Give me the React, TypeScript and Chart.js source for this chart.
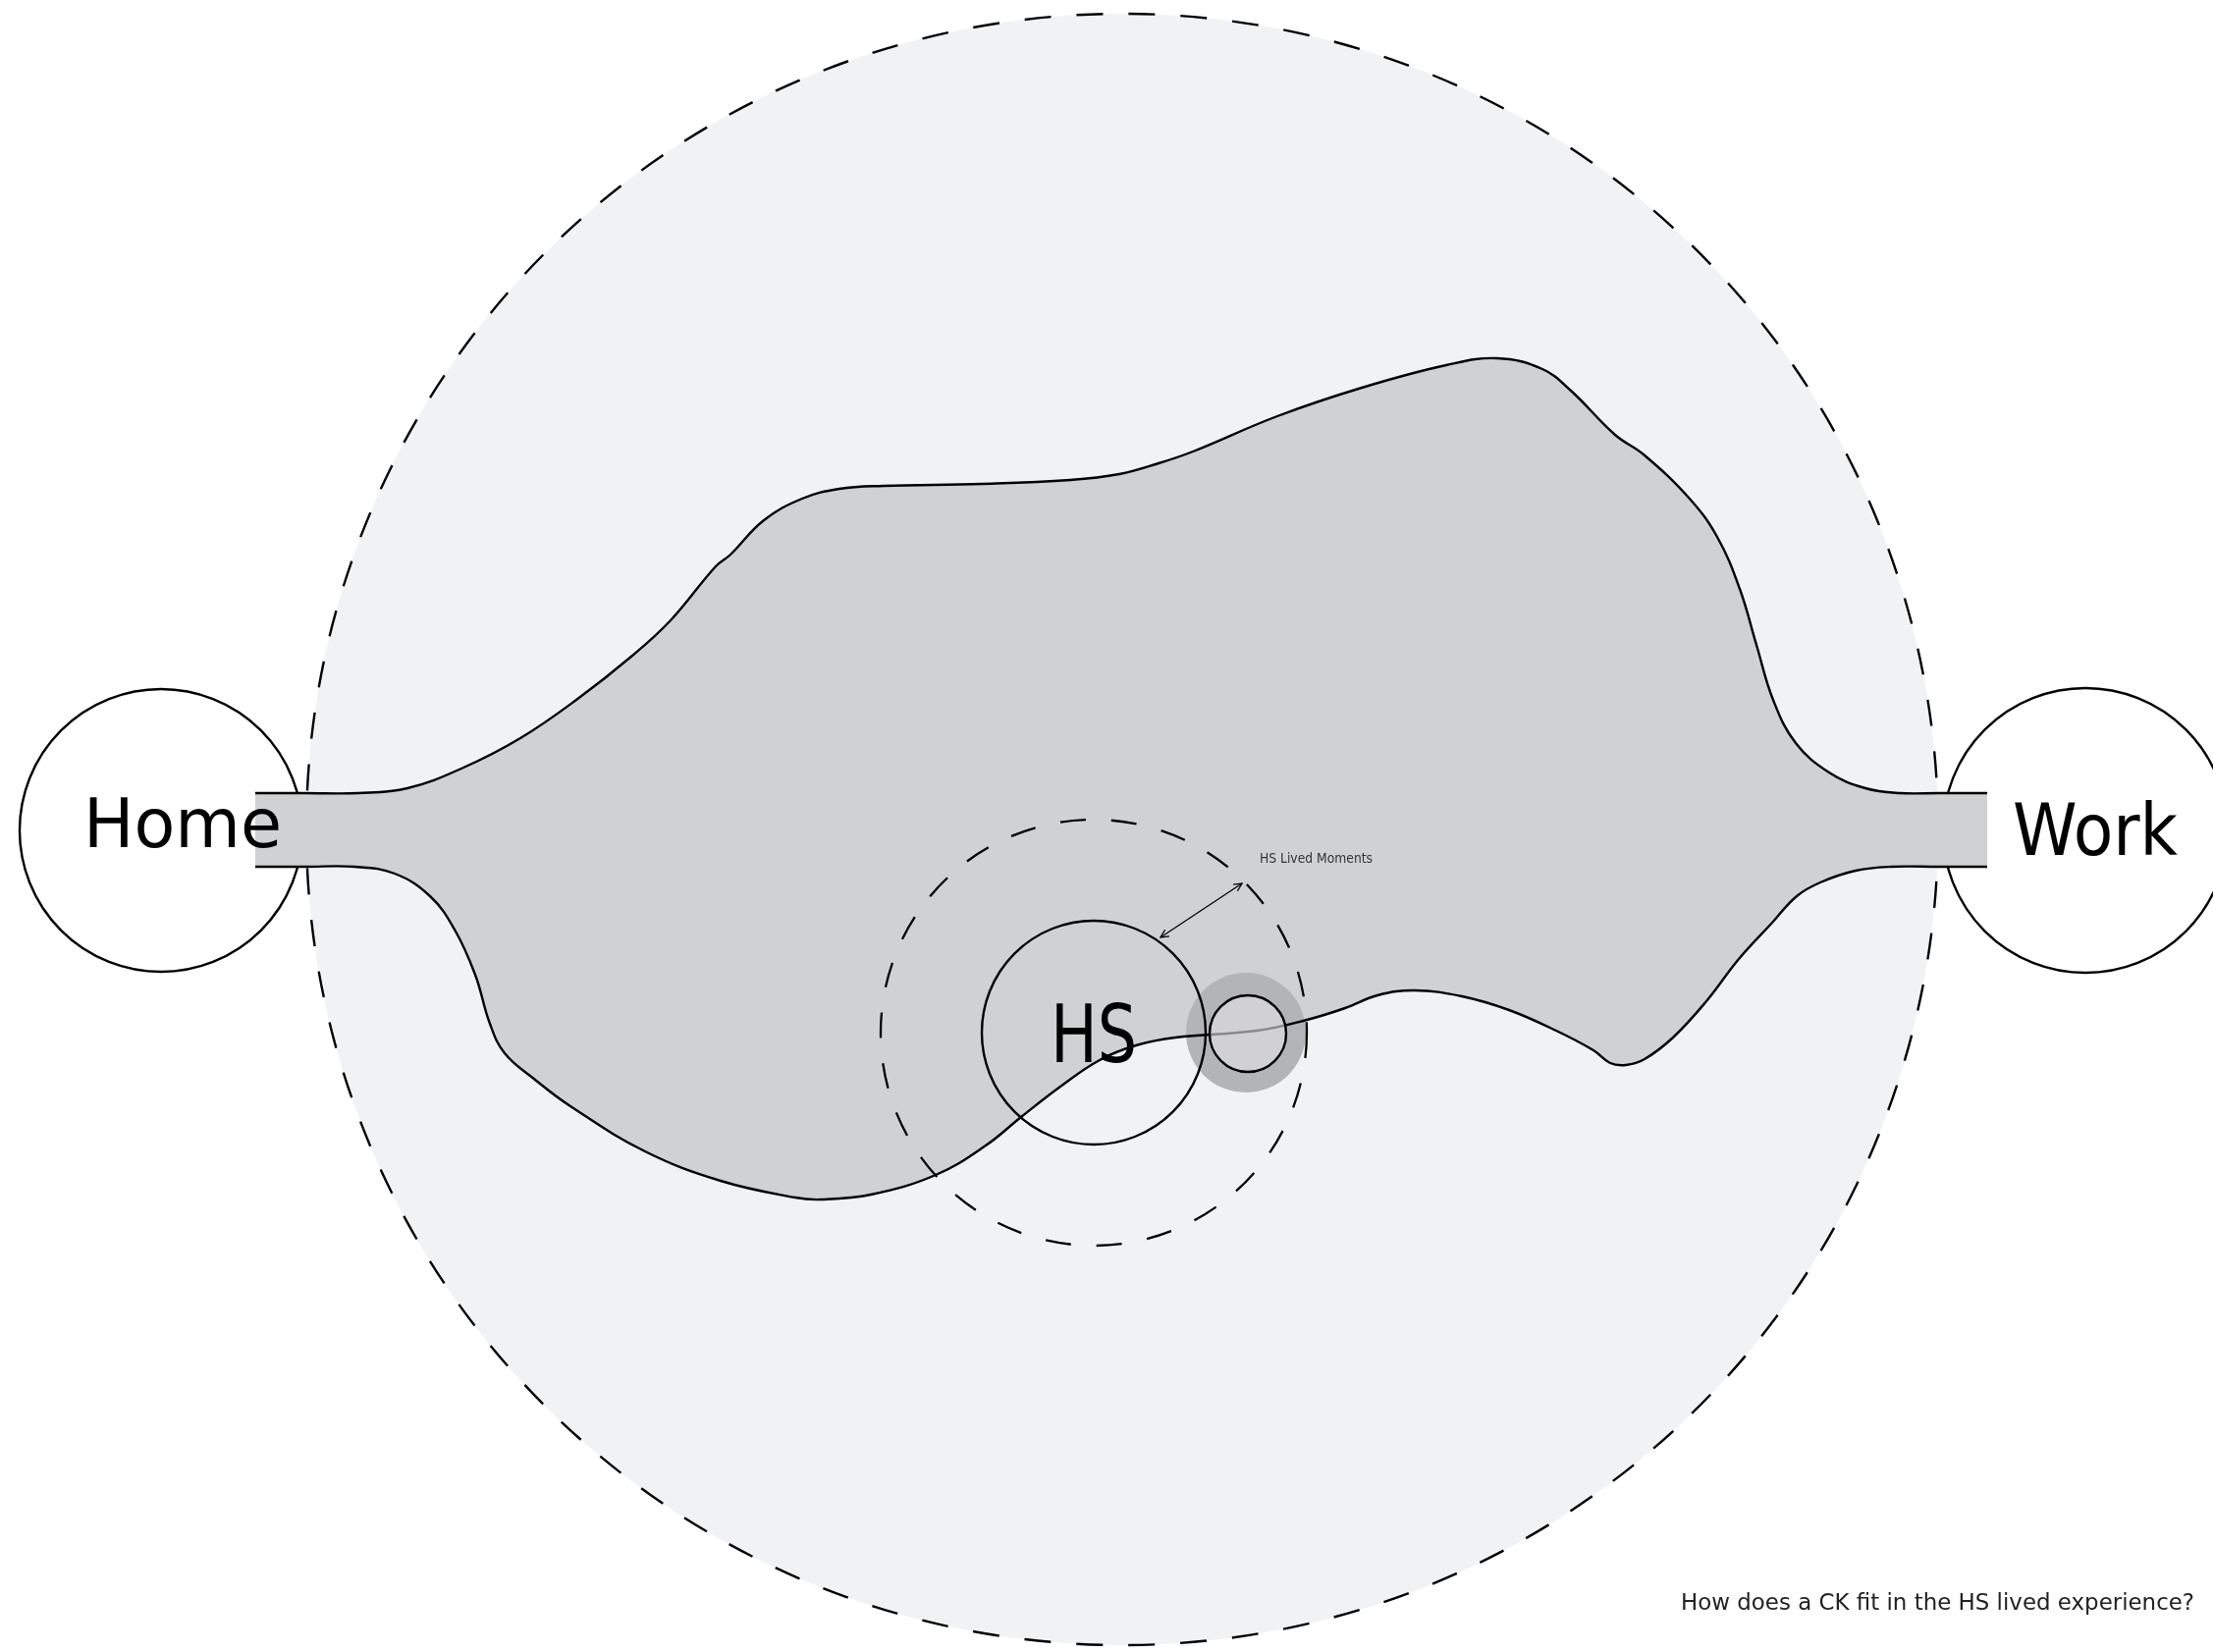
import React, { useEffect, useRef } from 'react';
import { Chart, registerables } from 'chart.js';

Chart.register(...registerables);

// Canvas / axis extent (units = reference pixels)
const xExtent = [0, 2254];
const yExtent = [0, 1683];

// Upper boundary of the "lived experience" area (Home band -> Work band)
const upperX = [260, 310, 365, 415, 472, 530, 587, 644, 683, 729, 744, 778, 817, 855, 900, 1000, 1090, 1140, 1180, 1215, 1301, 1387, 1473, 1525, 1571, 1600, 1645, 1674, 1720, 1749, 1772, 1789, 1806, 1829, 1863, 1900, 1935, 1975, 2024];
const upperY = [808, 808, 808, 803, 782, 752, 713, 668, 632, 577, 565, 530, 508, 498, 495, 493, 489, 483, 472, 460, 424, 395, 372, 365, 376, 398, 443, 463, 507, 547, 600, 657, 713, 757, 787, 803, 808, 808, 808];

// Lower boundary of the area
const lowerX = [260, 310, 361, 402, 438, 463, 484, 499, 514, 545, 581, 657, 734, 810, 836, 887, 953, 1004, 1040, 1080, 1120, 1157, 1197, 1280, 1331, 1370, 1403, 1441, 1489, 1537, 1585, 1623, 1640, 1656, 1675, 1704, 1738, 1771, 1805, 1830, 1854, 1890, 1926, 1975, 2024];
const lowerY = [883, 883, 883, 890, 913, 947, 993, 1043, 1073, 1100, 1127, 1173, 1203, 1220, 1222, 1217, 1197, 1167, 1138, 1107, 1080, 1065, 1057, 1050, 1039, 1027, 1014, 1009, 1015, 1029, 1050, 1070, 1083, 1085, 1079, 1057, 1020, 977, 940, 913, 899, 887, 883, 883, 883];

// Circles: outer field, Home, Work, HS range, HS, CK halo, CK
const circleNames = ['field', 'home', 'work', 'hsRange', 'hs', 'ckHalo', 'ck'];
const circleCX = [1143, 164, 2124, 1114, 1114, 1269, 1271];
const circleCY = [845, 846, 846, 1052, 1052, 1052, 1053];
const circleR = [831, 144, 145, 217, 114, 61, 39];

// Double arrow (HS -> range)
const arrowX = [1182, 1265];
const arrowY = [955, 900];

// Text labels
const labelTexts = ['Home', 'Work', 'HS', 'HS Lived Moments', 'How does a CK fit in the HS lived experience?'];
const labelX = [85, 2050, 1070, 1283, 1712];
const labelY = [863, 871, 1082, 879, 1640];
const labelW = [202, 168, 88, 115, 523];
const labelCap = [51, 53, 60, 10, 17];

const FONT = '"DejaVu Sans", "Noto Sans", sans-serif';
const CAP_RATIO = 0.729;

function toPx(chart: any, x: number, y: number): [number, number] {
  return [chart.scales.x.getPixelForValue(x), chart.scales.y.getPixelForValue(y)];
}

function radiusPx(chart: any, cx: number, r: number): number {
  return Math.abs(chart.scales.x.getPixelForValue(cx + r) - chart.scales.x.getPixelForValue(cx));
}

function drawCircle(chart: any, name: string, style: { fill?: string; stroke?: string; width?: number; dash?: number[] }) {
  const i = circleNames.indexOf(name);
  const ctx = chart.ctx;
  const [cx, cy] = toPx(chart, circleCX[i], circleCY[i]);
  const r = radiusPx(chart, circleCX[i], circleR[i]);
  ctx.save();
  ctx.beginPath();
  ctx.arc(cx, cy, r, 0, Math.PI * 2);
  if (style.fill) {
    ctx.fillStyle = style.fill;
    ctx.fill();
  }
  if (style.stroke) {
    ctx.setLineDash(style.dash || []);
    ctx.lineWidth = style.width || 1;
    ctx.strokeStyle = style.stroke;
    ctx.stroke();
  }
  ctx.restore();
}

function drawLabel(chart: any, i: number, color: string) {
  const ctx = chart.ctx;
  const [x, y] = toPx(chart, labelX[i], labelY[i]);
  const [x2] = toPx(chart, labelX[i] + labelW[i], labelY[i]);
  const [, yTop] = toPx(chart, labelX[i], labelY[i] - labelCap[i]);
  const w = x2 - x;
  const size = Math.abs(y - yTop) / CAP_RATIO;
  ctx.save();
  ctx.font = `400 ${size}px ${FONT}`;
  const m = ctx.measureText(labelTexts[i]).width;
  const sx = w / m;
  ctx.fillStyle = color;
  ctx.textAlign = 'left';
  ctx.textBaseline = 'alphabetic';
  ctx.translate(x, y);
  ctx.scale(sx, 1);
  ctx.fillText(labelTexts[i], 0, 0);
  ctx.restore();
}

function drawArrowHead(ctx: CanvasRenderingContext2D, x: number, y: number, ang: number, len: number) {
  ctx.beginPath();
  ctx.moveTo(x - len * Math.cos(ang - 0.45), y - len * Math.sin(ang - 0.45));
  ctx.lineTo(x, y);
  ctx.lineTo(x - len * Math.cos(ang + 0.45), y - len * Math.sin(ang + 0.45));
  ctx.stroke();
}

const diagramPlugin = {
  id: 'diagram',
  beforeDraw(chart: any) {
    drawCircle(chart, 'field', { fill: '#f1f2f4' });
    drawCircle(chart, 'field', { stroke: '#000', width: 2.4, dash: [27, 26] });
    drawCircle(chart, 'home', { fill: '#ffffff', stroke: '#000', width: 2.4 });
    drawCircle(chart, 'work', { fill: '#ffffff', stroke: '#000', width: 2.4 });
  },
  beforeDatasetsDraw(chart: any) {
    drawCircle(chart, 'ckHalo', { fill: '#b3b4b7' });
  },
  afterDatasetsDraw(chart: any) {
    const ctx = chart.ctx;
    drawCircle(chart, 'ck', { fill: 'rgba(228,229,231,0.6)', stroke: '#000', width: 2.4 });
    drawCircle(chart, 'hsRange', { stroke: '#000', width: 2.3, dash: [26, 26] });
    drawCircle(chart, 'hs', { stroke: '#000', width: 2.4 });

    const [ax, ay] = toPx(chart, arrowX[0], arrowY[0]);
    const [bx, by] = toPx(chart, arrowX[1], arrowY[1]);
    ctx.save();
    ctx.strokeStyle = '#000';
    ctx.lineWidth = 1.3;
    ctx.beginPath();
    ctx.moveTo(ax, ay);
    ctx.lineTo(bx, by);
    ctx.stroke();
    const ang = Math.atan2(by - ay, bx - ax);
    drawArrowHead(ctx, bx, by, ang, 9);
    drawArrowHead(ctx, ax, ay, ang + Math.PI, 9);
    ctx.restore();

    drawLabel(chart, 0, '#000');
    drawLabel(chart, 1, '#000');
    drawLabel(chart, 2, '#000');
    drawLabel(chart, 3, '#333333');
    drawLabel(chart, 4, '#222222');
  },
};

export default function App() {
  const ref = useRef<HTMLCanvasElement | null>(null);

  useEffect(() => {
    document.body.style.margin = '0';
    const canvas = ref.current;
    if (!canvas) return;
    const upper = upperX.map((x, i) => ({ x, y: upperY[i] }));
    const lower = lowerX.map((x, i) => ({ x, y: lowerY[i] }));
    const chart = new Chart(canvas, {
      type: 'scatter',
      data: {
        datasets: [
          {
            label: 'upper',
            data: upper,
            showLine: true,
            borderColor: '#000',
            borderWidth: 2.4,
            pointRadius: 0,
            tension: 0.4,
            fill: '+1',
            backgroundColor: '#d0d1d3',
          },
          {
            label: 'lower',
            data: lower,
            showLine: true,
            borderColor: '#000',
            borderWidth: 2.4,
            pointRadius: 0,
            tension: 0.4,
            fill: false,
          },
        ],
      } as any,
      options: {
        responsive: false,
        animation: false,
        devicePixelRatio: 1,
        events: [],
        layout: { padding: 0 },
        scales: {
          x: { type: 'linear', min: xExtent[0], max: xExtent[1], display: false },
          y: { type: 'linear', min: yExtent[0], max: yExtent[1], reverse: true, display: false },
        },
        plugins: {
          legend: { display: false },
          tooltip: { enabled: false },
          filler: { drawTime: 'beforeDatasetsDraw' },
        } as any,
      } as any,
      plugins: [diagramPlugin],
    });
    return () => chart.destroy();
  }, []);

  return (
    <div style={{ width: 2254, height: 1683, background: '#fff' }}>
      <canvas ref={ref} width={2254} height={1683} style={{ display: 'block', width: 2254, height: 1683 }} />
    </div>
  );
}
